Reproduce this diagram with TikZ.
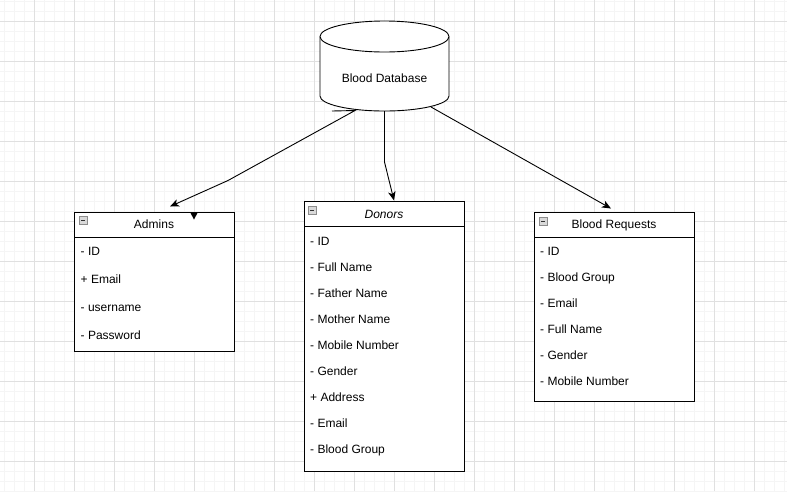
\documentclass[tikz,border=0pt]{standalone}
\usepackage{fontspec}
\setmainfont{Liberation Sans}
\usetikzlibrary{arrows.meta}
\begin{document}
\begin{tikzpicture}[x=1pt,y=-1pt,
  every node/.style={font=\fontsize{12}{14}\selectfont, inner sep=0pt, text height=9pt, text depth=2.5pt},
  classbox/.style={draw=black, line width=0.9pt, fill=white, anchor=north west, minimum width=160pt},
  attr/.style={anchor=west},
  conn/.style={draw=black, line width=0.9pt, -{Stealth[length=9pt,width=7.5pt,inset=2.5pt]}},
  minor/.style={draw=black!4, line width=0.6pt},
  major/.style={draw=black!12, line width=0.8pt},
  collapse/.style={fill=black!15, draw=black!45, line width=0.6pt},
]
\useasboundingbox (0,0) rectangle (787,491);
\fill[white] (0,0) rectangle (787,491);
% grid
\foreach \x in {4,14,...,784} \draw[minor] (\x,0) -- (\x,491);
\foreach \y in {1,11,...,491} \draw[minor] (0,\y) -- (787,\y);
\foreach \x in {34,74,...,754} \draw[major] (\x,0) -- (\x,491);
\foreach \y in {21,61,...,461} \draw[major] (0,\y) -- (787,\y);

% cylinder
\fill[white] (320,36.5) rectangle (449,96);
\fill[white] (384.5,96) ellipse [x radius=64.5, y radius=15];
\draw[line width=0.9pt] (320,36.5) -- (320,96) arc[start angle=180, end angle=0, x radius=64.5, y radius=15] -- (449,36.5);
\draw[line width=0.9pt, fill=white] (384.5,36.5) ellipse [x radius=64.5, y radius=15.5];
\node (db) at (384.5,79) {Blood Database};
\coordinate (dbL0) at (332,111);
\coordinate (dbL) at (355,110.5);
\coordinate (dbM) at (384.5,111);
\coordinate (dbR) at (431,107);

% class boxes
\node[classbox, minimum height=139pt] (admins) at (74,212) {};
\node[classbox, minimum height=270pt] (donors) at (304,201) {};
\node[classbox, minimum height=189pt] (requests) at (534,212) {};
\foreach \b in {admins,donors,requests}
  \draw[line width=0.9pt] ([yshift=-25.5pt]\b.north west) -- ([yshift=-25.5pt]\b.north east);

% collapse icons
\foreach \xx/\yy in {79/216, 308/206, 539/217}{
  \draw[collapse] (\xx,\yy) rectangle ++(8.5,8.5);
  \draw[black!80, line width=0.9pt] (\xx+2.3,\yy+4.25) -- (\xx+6.2,\yy+4.25);
}

% titles
\node (adminsT) at (154,225.5) {Admins};
\node (donorsT) at (384,215) {\itshape Donors};
\node (requestsT) at (614,225.5) {Blood Requests};

% attributes
\node[attr] (a1) at (80.5,252) {- ID};
\node[attr] (a2) at (80.5,280) {+ Email};
\node[attr] (a3) at (80.5,308) {- username};
\node[attr] (a4) at (80.5,336) {- Password};

\node[attr] (d1) at (310,242) {- ID};
\node[attr] (d2) at (310,268) {- Full Name};
\node[attr] (d3) at (310,294) {- Father Name};
\node[attr] (d4) at (310,320) {- Mother Name};
\node[attr] (d5) at (310,346) {- Mobile Number};
\node[attr] (d6) at (310,372) {- Gender};
\node[attr] (d7) at (310,398) {+ Address};
\node[attr] (d8) at (310,424) {- Email};
\node[attr] (d9) at (310,450) {- Blood Group};

\node[attr] (r1) at (540,252) {- ID};
\node[attr] (r2) at (540,278) {- Blood Group};
\node[attr] (r3) at (540,304) {- Email};
\node[attr] (r4) at (540,330) {- Full Name};
\node[attr] (r5) at (540,356) {- Gender};
\node[attr] (r6) at (540,382) {- Mobile Number};

% connectors
\coordinate (adminsIn) at (170,206.5);
\coordinate (donorsIn) at (394,200.5);
\coordinate (requestsIn) at (611,208.5);
\draw[conn] (dbL0) -- (dbL) -- (228,180.5) -- (adminsIn);
\draw[conn] (dbM) -- (384.5,162) -- (donorsIn);
\draw[conn] (dbR) -- (requestsIn);
% stray arrowhead on Admins
\fill[black] (190,212) -- (198,212) -- (194,219.5) -- cycle;
\end{tikzpicture}
\end{document}
